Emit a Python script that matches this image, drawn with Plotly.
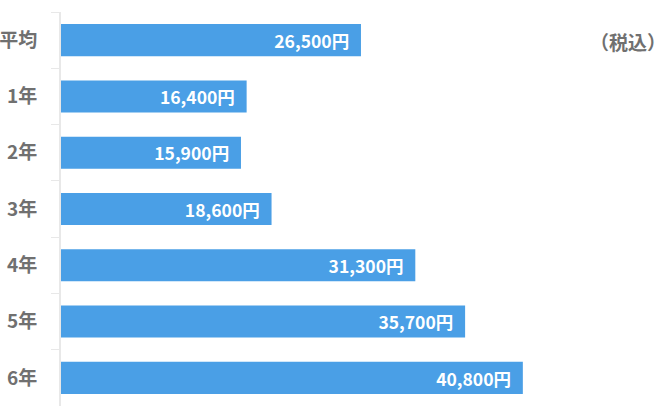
import plotly.graph_objects as go

categories = ["平均", "1年", "2年", "3年", "4年", "5年", "6年"]
values = [26500, 16400, 15900, 18600, 31300, 35700, 40800]
labels = [f"{v:,}円\u2002" for v in values]
note = "（税込）"

font_family = "Noto Sans CJK JP"

fig = go.Figure(go.Bar(
    x=values,
    y=categories,
    orientation="h",
    marker=dict(color="#4a9fe6", line=dict(width=0)),
    text=labels,
    textposition="inside",
    insidetextanchor="end",
    textfont=dict(color="white", size=19.5, family=font_family, weight="bold"),
    cliponaxis=False,
    hoverinfo="skip",
))

fig.update_layout(
    width=670, height=415,
    margin=dict(l=61, r=0, t=12, b=9),
    paper_bgcolor="white", plot_bgcolor="white",
    bargap=0.43,
    showlegend=False,
    font=dict(family=font_family),
    annotations=[dict(
        text=note, xref="paper", yref="paper", x=1.0, y=1 - 29/394,
        xanchor="right", yanchor="middle", xshift=-2, showarrow=False,
        font=dict(color="#707070", size=19, family=font_family, weight="bold"),
    )],
)

fig.update_yaxes(
    autorange="reversed",
    showline=True, linecolor="#e8e8e8", linewidth=2,
    ticks="outside", tickson="boundaries", ticklen=8, tickcolor="#e8e8e8", tickwidth=1,
    tickfont=dict(color="#707070", size=19, family=font_family, weight="bold"),
    ticklabelstandoff=18,
    showgrid=False, zeroline=False, automargin=False,
)
fig.update_xaxes(
    range=[0, 53800], visible=False, showgrid=False, zeroline=False,
)

fig.write_html(
    "out.html",
    config={"displayModeBar": False},
    post_script="document.body.style.margin='0';",
)
